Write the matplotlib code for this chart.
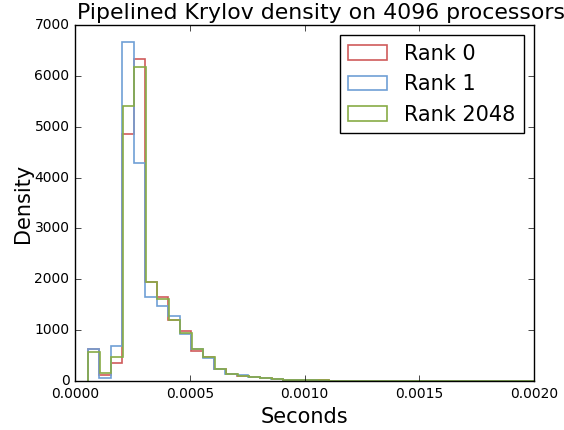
import numpy as np
import matplotlib
matplotlib.use("Agg")
import matplotlib.pyplot as plt

plt.style.use("classic")

labels = ["Rank 0", "Rank 1", "Rank 2048"]
colors = ["#cf5b5b", "#6f9fd6", "#88ac46"]

bin_width = 5.0e-5
starts = [5.65e-5, 5.55e-5, 5.8e-5]

# density per bin
rank0 = [620, 120, 360, 4860, 6330, 1950, 1660, 1200, 990, 580, 465, 230, 130, 100,
         70, 50, 35, 25, 18, 12, 10, 8, 6, 5, 4, 4, 3, 3, 2, 2, 2, 2, 1, 1, 1, 1, 1, 1, 0]
rank1 = [625, 65, 690, 6670, 4280, 1646, 1480, 1280, 920, 630, 445, 245, 146, 110,
         80, 55, 35, 25, 18, 12, 8, 6, 5, 4, 3, 3, 3, 2, 2, 2, 1, 1, 1, 1, 1, 1, 1, 1, 0]
rank2048 = [575, 150, 465, 5400, 6175, 1950, 1612, 1200, 950, 620, 465, 230, 130, 100,
            70, 50, 35, 25, 18, 12, 10, 8, 6, 5, 4, 4, 3, 3, 2, 2, 2, 2, 1, 1, 1, 1, 1, 1, 0]
series = [rank0, rank1, rank2048]

fig = plt.figure(figsize=(5.64, 4.30), dpi=100, facecolor="white")
ax = fig.add_axes([0.133, 0.114, 0.814, 0.828])

for vals, start, c, lab in zip(series, starts, colors, labels):
    edges = start + bin_width * np.arange(len(vals) + 1)
    ax.hist(edges[:-1], bins=edges, weights=vals, histtype="step",
            color=c, linewidth=1.2, label=lab)

ax.set_xlim(0, 0.002)
ax.set_ylim(0, 7000)
ax.set_xticks([0, 0.0005, 0.001, 0.0015, 0.002])
ax.set_xticklabels(["0.0000", "0.0005", "0.0010", "0.0015", "0.0020"])
ax.tick_params(labelsize=10)
ax.set_xlabel("Seconds", fontsize=15)
ax.set_ylabel("Density", fontsize=15, labelpad=1)
ax.set_title("Pipelined Krylov density on 4096 processors", fontsize=15.8, pad=4, x=0.535)
ax.legend(loc="upper right", fontsize=15, frameon=True, fancybox=False,
          handlelength=1.9, borderaxespad=0.5)

fig.savefig("out.png", dpi=100, facecolor="white")
